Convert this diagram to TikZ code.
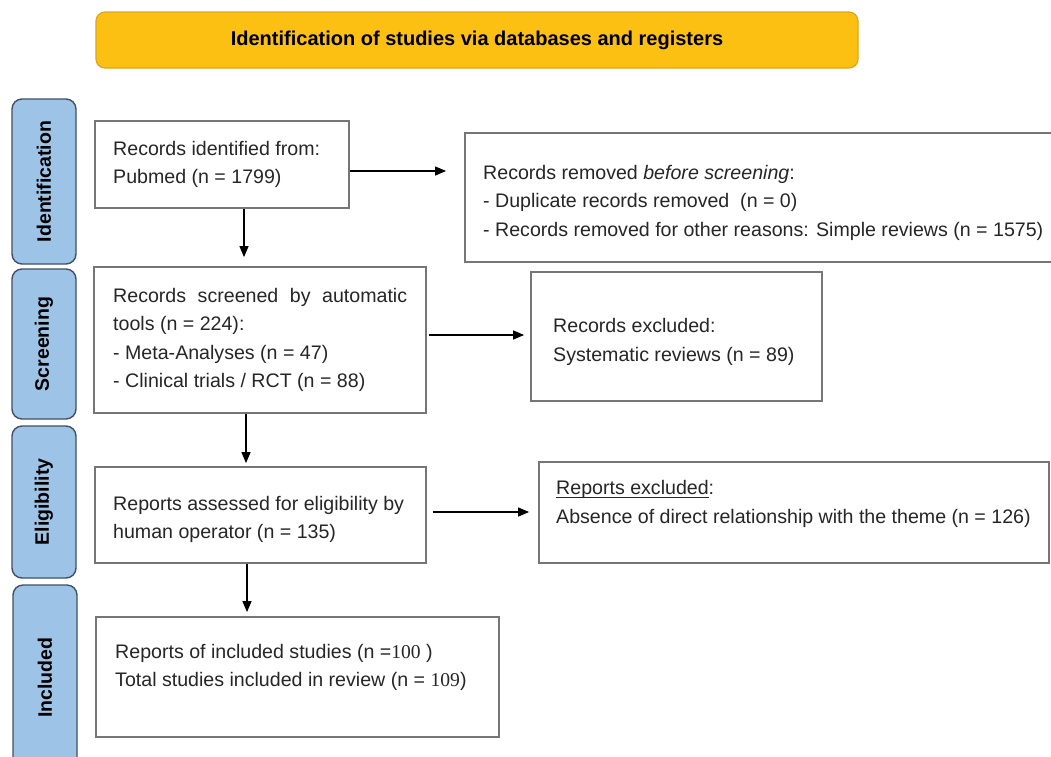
\documentclass[tikz,border=0pt]{standalone}
\usepackage{fontspec}
\setmainfont{Liberation Sans}
\newfontfamily\serifnum{Liberation Serif}
\usetikzlibrary{arrows.meta}
\definecolor{hdrfill}{RGB}{251,192,18}
\definecolor{hdrdraw}{RGB}{222,165,30}
\definecolor{sidefill}{RGB}{157,195,230}
\definecolor{sidedraw}{RGB}{65,80,100}
\definecolor{boxdraw}{RGB}{118,118,118}
\definecolor{txtcol}{RGB}{38,38,38}
\newcommand\myul[1]{\setbox0\hbox{#1}\rlap{\rule[-2.6pt]{\wd0}{0.9pt}}\box0}
\begin{document}
\begin{tikzpicture}[x=1pt,y=-1pt,
  box/.style={draw=boxdraw, line width=1.8pt, fill=white, inner sep=0pt, rectangle},
  side/.style={draw=sidedraw, fill=sidefill, line width=1.4pt, rounded corners=10pt,
    inner sep=0pt, text=black, font=\fontsize{19.5}{22}\selectfont\bfseries},
  hdr/.style={draw=hdrdraw, fill=hdrfill, line width=1.2pt, rounded corners=9pt,
    inner sep=0pt, text=black, font=\fontsize{20}{22}\selectfont\bfseries},
  txt/.style={anchor=west, inner sep=0pt, align=left, text=txtcol,
    font=\fontsize{19.6}{28.5}\selectfont},
  arr/.style={draw=black, line width=1.2pt, -{Triangle[length=11pt,width=9pt]}}]
\useasboundingbox (0,0) rectangle (1051,756);
\clip (0,0) rectangle (1051,756);
\fill[white] (0,0) rectangle (1051,756);

% header
\node[hdr, minimum width=762pt, minimum height=56pt] (hdr) at (477,40)
  {Identification of studies via databases and registers};

% side labels
\node[side, rotate=90, minimum width=165pt, minimum height=64pt] (sid) at (44,181.5) {Identification};
\node[side, rotate=90, minimum width=150pt, minimum height=64pt] (sscr) at (44,344) {Screening};
\node[side, rotate=90, minimum width=152pt, minimum height=64pt] (selig) at (44,502) {Eligibility};
\node[side, rotate=90, minimum width=185pt, minimum height=64pt] (sinc) at (45,677.5) {Included};

% boxes
\node[box, minimum width=254pt, minimum height=87pt] (b1) at (222,164.5) {};
\node[box, minimum width=591pt, minimum height=129pt] (b2) at (760.5,197.5) {};
\node[box, minimum width=332pt, minimum height=146pt] (b3) at (260,340) {};
\node[box, minimum width=291pt, minimum height=129pt] (b4) at (676.5,336.5) {};
\node[box, minimum width=331pt, minimum height=96pt] (b5) at (260.5,515) {};
\node[box, minimum width=510pt, minimum height=101pt] (b6) at (794,512.5) {};
\node[box, minimum width=403pt, minimum height=120pt] (b7) at (297.5,677) {};

% texts
\node[txt] (t1) at (113,164.5) {Records identified from:\\Pubmed (n = 1799)};
\node[txt] (t2) at (483,202.5) {Records removed \textit{before screening}:\\- Duplicate records removed\ \ (n = 0)\\- Records removed for other reasons: Simple reviews (n = 1575)};
\node[txt] (t3) at (113,340) {\hbox to 294pt{Records\hfill screened\hfill by\hfill automatic}\\tools (n = 224):\\- Meta-Analyses (n = 47)\\- Clinical trials / RCT (n = 88)};
\node[txt] (t4) at (553,342) {Records excluded:\\Systematic reviews (n = 89)};
\node[txt] (t5) at (113,519.5) {Reports assessed for eligibility by\\human operator (n = 135)};
\node[txt] (t6) at (556,504) {\myul{Reports excluded}:\\Absence of direct relationship with the theme (n = 126)};
\node[txt] (t7) at (115,667.5) {Reports of included studies (n ={\serifnum 100} )\\Total studies included in review (n = {\serifnum 109})};

% connectors
\coordinate (c1) at (244,0);
\coordinate (c2) at (246,0);
\coordinate (c3) at (247,0);
\coordinate (r1) at (0,171);
\coordinate (r2) at (0,335);
\coordinate (r3) at (0,512);
\draw[arr, shorten >=9pt] (b1.south -| c1) -- (b3.north -| c1);
\draw[arr, shorten >=3pt] (b3.south -| c2) -- (b5.north -| c2);
\draw[arr, shorten >=4pt] (b5.south -| c3) -- (b7.north -| c3);
\draw[arr, shorten >=18pt] (b1.east |- r1) -- (b2.west |- r1);
\draw[arr, shorten <=2pt, shorten >=6pt] (b3.east |- r2) -- (b4.west |- r2);
\draw[arr, shorten <=6pt, shorten >=9pt] (b5.east |- r3) -- (b6.west |- r3);
\end{tikzpicture}
\end{document}
